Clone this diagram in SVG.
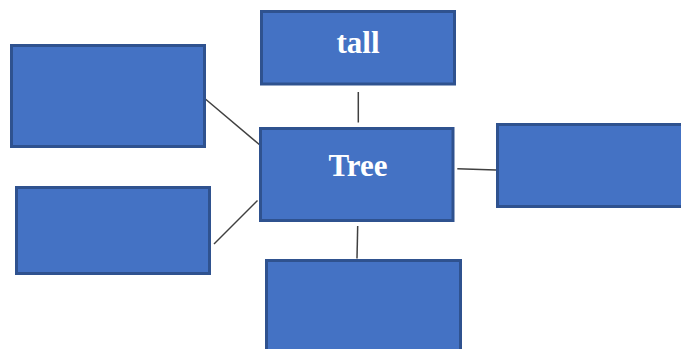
<svg xmlns="http://www.w3.org/2000/svg" width="681" height="349" viewBox="0 0 681 349">
<style>
.box{fill:#4472C4;stroke:#2F528F;stroke-width:3}
.lbl{font-family:"Liberation Serif","Times New Roman",serif;font-weight:bold;font-size:31px;fill:#ffffff;text-anchor:middle}
.conn line{stroke:#404040;stroke-width:1.5}
</style>
<rect width="681" height="349" fill="#ffffff"/>
<g id="connectors" class="conn">
<line x1="358.3" y1="92" x2="358.3" y2="122.5"/>
<line x1="203" y1="97" x2="260.5" y2="145.5"/>
<line x1="214" y1="244" x2="257.5" y2="200.5"/>
<line x1="457.3" y1="168.7" x2="496" y2="170"/>
<line x1="357.7" y1="226" x2="357" y2="258.5"/>
</g>
<g id="node-tall">
<rect class="box" x="261.5" y="11.5" width="193" height="72.5"/>
<text class="lbl" x="358" y="53">tall</text>
</g>
<g id="node-tree">
<rect class="box" x="260.5" y="128.5" width="192.5" height="92"/>
<text class="lbl" x="358" y="175.5">Tree</text>
</g>
<g id="node-left-top">
<rect class="box" x="11.5" y="45.5" width="193" height="101"/>
</g>
<g id="node-left-bottom">
<rect class="box" x="16.5" y="187.5" width="193" height="86"/>
</g>
<g id="node-right">
<rect class="box" x="497.5" y="124.5" width="186" height="82"/>
</g>
<g id="node-bottom">
<rect class="box" x="266.5" y="260.5" width="194" height="92"/>
</g>
</svg>
